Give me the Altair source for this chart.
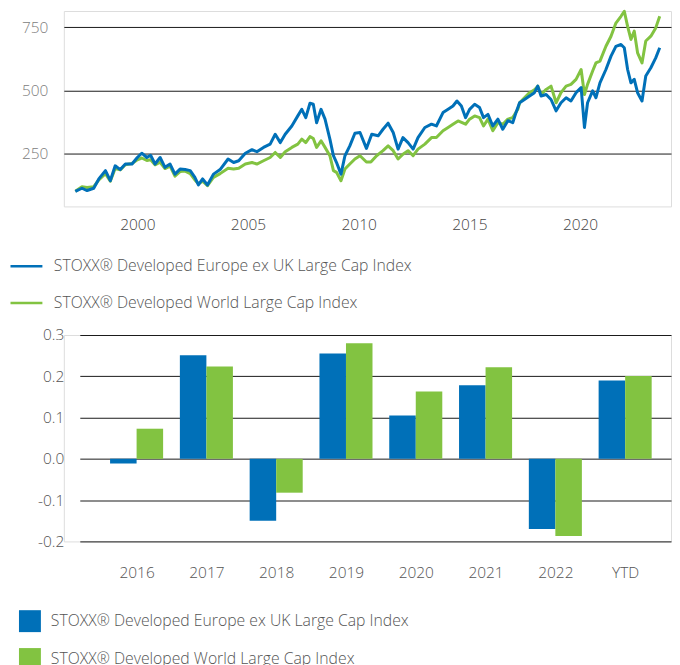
import json
import altair as alt
import pandas as pd

BLUE = "#0070b8"
GREEN = "#82c341"
EU = "STOXX® Developed Europe ex UK Large Cap Index"
WORLD = "STOXX® Developed World Large Cap Index"

# ---- line chart data (decimal years, index level) ----
eu_years = [1997.2, 1997.5, 1997.73, 1998.03, 1998.26, 1998.56, 1998.78, 1999.0, 1999.23, 1999.46,
            1999.76, 2000.0, 2000.2, 2000.43, 2000.6, 2000.8, 2001.03, 2001.25, 2001.48, 2001.7,
            2001.93, 2002.16, 2002.39, 2002.6, 2002.76, 2002.95, 2003.17, 2003.44, 2003.74, 2004.1,
            2004.35, 2004.58, 2004.88, 2005.18, 2005.4, 2005.7, 2006.0, 2006.23, 2006.46, 2006.68,
            2006.98, 2007.25, 2007.43, 2007.61, 2007.8, 2007.95, 2008.1, 2008.3, 2008.48, 2008.7,
            2008.86, 2009.0, 2009.2, 2009.38, 2009.6, 2009.83, 2010.06, 2010.35, 2010.59, 2010.88,
            2011.1, 2011.33, 2011.56, 2011.78, 2012.0, 2012.23, 2012.46, 2012.68, 2012.99, 2013.29,
            2013.51, 2013.81, 2014.04, 2014.26, 2014.44, 2014.64, 2014.83, 2015.01, 2015.24, 2015.46,
            2015.64, 2015.84, 2016.06, 2016.29, 2016.51, 2016.74, 2016.96, 2017.1, 2017.27, 2017.49,
            2017.72, 2017.94, 2018.09, 2018.24, 2018.47, 2018.69, 2018.92, 2019.14, 2019.37, 2019.59,
            2019.82, 2020.05, 2020.2, 2020.34, 2020.57, 2020.72, 2020.9, 2021.17, 2021.4, 2021.62,
            2021.85, 2022.0, 2022.15, 2022.3, 2022.45, 2022.6, 2022.8, 2022.97, 2023.2, 2023.42,
            2023.6]
eu_values = [100, 112, 103, 112, 149, 182, 142, 201, 186, 208,
             208, 234, 251, 234, 243, 208, 234, 195, 208, 168,
             188, 186, 182, 155, 125, 149, 125, 168, 186, 228,
             214, 221, 251, 265, 257, 274, 287, 326, 293, 326,
             359, 399, 425, 392, 449, 445, 372, 425, 386, 307,
             241, 214, 168, 241, 280, 330, 333, 270, 326, 320,
             346, 370, 333, 267, 313, 293, 267, 313, 353, 366,
             359, 412, 425, 438, 458, 438, 392, 425, 445, 432,
             392, 405, 359, 386, 346, 380, 372, 410, 451, 464,
             478, 491, 517, 478, 484, 464, 419, 451, 471, 458,
             491, 511, 353, 451, 498, 471, 530, 583, 636, 675,
             682, 669, 583, 530, 544, 491, 458, 557, 590, 629,
             669]

world_years = [1997.2, 1997.5, 1997.73, 1998.03, 1998.26, 1998.56, 1998.78, 1999.0, 1999.23, 1999.46,
               1999.76, 2000.0, 2000.2, 2000.43, 2000.6, 2000.8, 2001.03, 2001.25, 2001.48, 2001.7,
               2001.93, 2002.16, 2002.39, 2002.6, 2002.76, 2002.95, 2003.17, 2003.44, 2003.74, 2004.1,
               2004.35, 2004.58, 2004.88, 2005.18, 2005.4, 2005.7, 2006.0, 2006.23, 2006.46, 2006.68,
               2006.98, 2007.25, 2007.43, 2007.61, 2007.8, 2007.95, 2008.1, 2008.3, 2008.48, 2008.7,
               2008.86, 2009.0, 2009.2, 2009.38, 2009.6, 2009.83, 2010.06, 2010.35, 2010.55, 2010.81,
               2011.1, 2011.33, 2011.56, 2011.78, 2012.0, 2012.23, 2012.46, 2012.68, 2012.99, 2013.29,
               2013.51, 2013.81, 2014.04, 2014.26, 2014.49, 2014.83, 2015.01, 2015.24, 2015.46, 2015.64,
               2015.84, 2016.06, 2016.29, 2016.51, 2016.74, 2016.96, 2017.19, 2017.27, 2017.49, 2017.72,
               2017.94, 2018.09, 2018.24, 2018.47, 2018.69, 2018.92, 2019.14, 2019.37, 2019.59, 2019.82,
               2020.05, 2020.2, 2020.34, 2020.57, 2020.72, 2020.9, 2021.17, 2021.4, 2021.62, 2021.85,
               2022.0, 2022.15, 2022.3, 2022.45, 2022.6, 2022.8, 2022.97, 2023.2, 2023.42, 2023.6]
world_values = [100, 118, 115, 118, 145, 170, 140, 190, 185, 205,
                210, 225, 232, 222, 225, 205, 215, 190, 200, 160,
                178, 180, 170, 145, 130, 140, 122, 155, 170, 191,
                188, 191, 208, 214, 208, 221, 234, 254, 234, 257,
                274, 287, 307, 293, 317, 309, 274, 300, 274, 241,
                182, 175, 142, 188, 208, 228, 241, 216, 216, 241,
                261, 280, 261, 228, 247, 261, 241, 267, 287, 313,
                313, 340, 353, 366, 379, 366, 386, 399, 392, 359,
                386, 340, 372, 366, 386, 392, 425, 451, 471, 491,
                502, 517, 484, 504, 517, 451, 491, 517, 524, 544,
                583, 484, 524, 577, 609, 616, 675, 715, 767, 794,
                814, 754, 702, 735, 649, 609, 696, 715, 748, 794]

year_ticks = [2000, 2005, 2010, 2015, 2020]
level_ticks = [250, 500, 750]

# ---- bar chart data (annual returns) ----
bar_categories = ["2016", "2017", "2018", "2019", "2020", "2021", "2022", "YTD"]
bar_eu = [-0.011, 0.251, -0.150, 0.255, 0.105, 0.178, -0.170, 0.190]
bar_world = [0.073, 0.224, -0.082, 0.280, 0.163, 0.222, -0.187, 0.201]
return_ticks = [-0.2, -0.1, 0.0, 0.1, 0.2, 0.3]

FONT = "Open Sans"
TEXT = "#555555"
GRID = "#1a1a1a"

line_df = pd.concat([
    pd.DataFrame({"year": world_years, "value": world_values, "series": WORLD}),
    pd.DataFrame({"year": eu_years, "value": eu_values, "series": EU}),
], ignore_index=True)

bar_df = pd.concat([
    pd.DataFrame({"idx": list(range(len(bar_categories))), "cat": bar_categories,
                  "ret": bar_eu, "series": EU}),
    pd.DataFrame({"idx": list(range(len(bar_categories))), "cat": bar_categories,
                  "ret": bar_world, "series": WORLD}),
], ignore_index=True)

line_color = alt.Color(
    "series:N",
    scale=alt.Scale(domain=[EU, WORLD], range=[BLUE, GREEN]),
    legend=alt.Legend(
        title=None, orient="none", legendX=-55, legendY=238.5, direction="vertical",
        symbolType="stroke", symbolSize=1024, symbolStrokeWidth=2.5,
        labelFont=FONT, labelFontSize=15.8, labelFontWeight=300, labelColor=TEXT,
        labelOffset=10, labelLimit=600, rowPadding=11, padding=0,
    ),
)

x_line = alt.X(
    "year:Q",
    scale=alt.Scale(domain=[1996.68, 2024.11], nice=False, zero=False),
    axis=alt.Axis(values=year_ticks, format="d", title=None, grid=False, ticks=False,
                  tickSize=0, domain=False, labelFont=FONT, labelFontSize=15.5,
                  labelFontWeight=300, labelColor="#444444", labelPadding=11),
)
y_line = alt.Y(
    "value:Q",
    scale=alt.Scale(domain=[40, 815], nice=False, zero=False),
    axis=alt.Axis(values=level_ticks, title=None, grid=True, gridColor=GRID,
                  gridWidth=1, gridOpacity=1, ticks=False, tickSize=0, domain=False,
                  labelFont=FONT, labelFontSize=15.5, labelFontWeight=300,
                  labelColor="#808080", labelPadding=16),
)

base_line = alt.Chart(line_df).mark_line(strokeWidth=3, strokeJoin="round").encode(
    x=x_line, y=y_line, color=line_color, order="year:Q"
)
line_chart = alt.layer(
    base_line.transform_filter(alt.datum.series == WORLD),
    base_line.transform_filter(alt.datum.series == EU),
).properties(width=609, height=196)

label_expr = json.dumps(bar_categories) + "[datum.value]"

bar_chart = alt.Chart(bar_df).mark_bar().transform_calculate(
    x0=f"datum.series === '{EU}' ? datum.idx - 0.38 : datum.idx",
    x1=f"datum.series === '{EU}' ? datum.idx : datum.idx + 0.38",
).encode(
    x=alt.X(
        "x0:Q",
        scale=alt.Scale(domain=[-0.814, 7.657], range=[16, 609], nice=False, zero=False),
        axis=alt.Axis(values=list(range(len(bar_categories))), labelExpr=label_expr,
                      title=None, grid=False, ticks=False, tickSize=0, domain=False,
                      labelFont=FONT, labelFontSize=15.5, labelFontWeight=300,
                      labelColor=TEXT, labelPadding=24),
    ),
    x2="x1:Q",
    y=alt.Y(
        "ret:Q",
        scale=alt.Scale(domain=[-0.2, 0.3], nice=False, zero=False),
        axis=alt.Axis(values=return_ticks, title=None, grid=True, gridColor=GRID,
                      gridWidth=1, gridOpacity=1, ticks=False, tickSize=0, domain=False,
                      labelExpr="replace(format(datum.value, '.1f'), '\u2212', '-')",
                      labelFont=FONT, labelFontSize=15.5, labelFontWeight=300,
                      labelColor=TEXT, labelPadding=0),
    ),
    y2=alt.datum(0),
    color=alt.Color(
        "series:N",
        scale=alt.Scale(domain=[EU, WORLD], range=[BLUE, GREEN]),
        legend=alt.Legend(
            title=None, orient="none", legendX=-45, legendY=276, direction="vertical",
            symbolType="square", symbolSize=484, symbolStrokeWidth=0, symbolOpacity=1,
            labelFont=FONT, labelFontSize=15.8, labelFontWeight=300, labelColor=TEXT,
            labelOffset=10, labelLimit=600, rowPadding=16, padding=0,
        ),
    ),
).properties(width=609, height=207)

chart = alt.vconcat(line_chart, bar_chart, spacing=129, bounds="flush").resolve_scale(
    color="independent"
).resolve_legend(color="independent").properties(padding=0).configure_view(
    strokeWidth=0
).configure(font=FONT)

chart.save("out.html", embed_options={"renderer": "svg", "actions": False})
